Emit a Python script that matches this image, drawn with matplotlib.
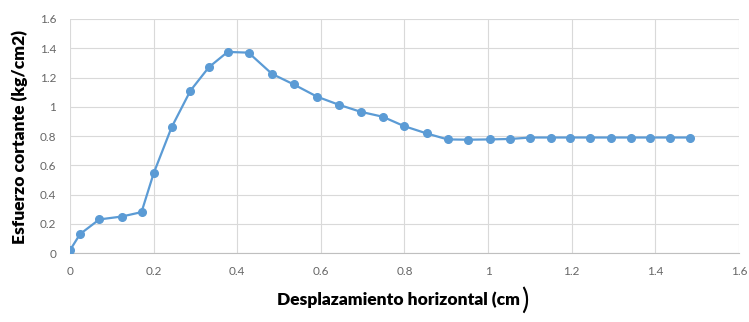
import numpy as np
import matplotlib.pyplot as plt

# horizontal displacement (cm) and shear stress (kg/cm2)
desplazamiento = [0.0, 0.024, 0.07, 0.124, 0.171, 0.2, 0.243, 0.288, 0.332, 0.377,
                  0.427, 0.483, 0.535, 0.591, 0.643, 0.695, 0.748, 0.799, 0.853, 0.903,
                  0.951, 1.005, 1.053, 1.101, 1.151, 1.196, 1.244, 1.293, 1.341, 1.388,
                  1.435, 1.483]
esfuerzo = [0.02, 0.13, 0.23, 0.25, 0.28, 0.545, 0.86, 1.11, 1.27, 1.375,
            1.37, 1.225, 1.153, 1.069, 1.014, 0.966, 0.932, 0.868, 0.818, 0.777,
            0.775, 0.777, 0.78, 0.79, 0.79, 0.79, 0.79, 0.79, 0.79, 0.79,
            0.79, 0.79]
xticks = [0, 0.2, 0.4, 0.6, 0.8, 1, 1.2, 1.4, 1.6]
yticks = [0, 0.2, 0.4, 0.6, 0.8, 1, 1.2, 1.4, 1.6]

plt.rcParams['font.family'] = ['Lato', 'DejaVu Sans']

fig = plt.figure(figsize=(7.49, 3.22), dpi=100)
ax = fig.add_axes([0.0935, 0.214, 0.893, 0.727])

ax.plot(desplazamiento, esfuerzo, color='#5B9BD5', lw=1.6, marker='o',
        markersize=5.5, zorder=3)

ax.set_xlim(0, 1.6)
ax.set_ylim(0, 1.6)
ax.set_xticks(xticks)
ax.set_yticks(yticks)
ax.set_xticklabels([f'{t:g}' for t in xticks])
ax.set_yticklabels([f'{t:g}' for t in yticks])
ax.tick_params(length=0, labelsize=8.5, labelcolor='#666666', pad=9)
ax.tick_params(axis='y', pad=10)
ax.grid(True, color='#d9d9d9', lw=0.8)
for s in ['top', 'right', 'left']:
    ax.spines[s].set_visible(False)
ax.spines['bottom'].set_color('#bfbfbf')

fig.text(0.027, 0.575, 'Esfuerzo cortante (kg/cm2)', rotation=90, fontsize=12.5,
         fontweight='heavy', ha='center', va='center')
lbl = fig.text(0.532, 0.068, 'Desplazamiento horizontal (cm', fontsize=12.5,
               fontweight='heavy', ha='center', va='center')
fig.canvas.draw()
bb = lbl.get_window_extent()
fig.text(bb.x1 / fig.bbox.width + 0.001, 0.066, ')', fontsize=20,
         ha='left', va='center')

fig.savefig('out.png', dpi=100)
